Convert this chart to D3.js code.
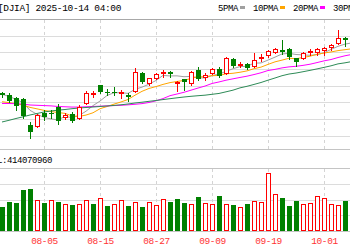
<!DOCTYPE html>
<html>
<head>
<meta charset="utf-8">
<script src="https://cdn.jsdelivr.net/npm/d3@7"></script>
<style>
  html, body { margin: 0; padding: 0; background: #fff; overflow: hidden; }
  svg { display: block; }
  text { font-family: "Liberation Mono", "DejaVu Sans Mono", monospace; }
</style>
</head>
<body>
<svg id="chart" width="350" height="250"></svg>
<script>
// trading days shown (the last one is cut at the right edge)
var dates = ['07-28','07-29','07-30','07-31','08-01','08-04','08-05','08-06','08-07','08-08',
  '08-11','08-12','08-13','08-14','08-15','08-18','08-19','08-20','08-21','08-22',
  '08-25','08-26','08-27','08-28','08-29','09-02','09-03','09-04','09-05','09-08',
  '09-09','09-10','09-11','09-12','09-15','09-16','09-17','09-18','09-19','09-22',
  '09-23','09-24','09-25','09-26','09-29','09-30','10-01','10-02','10-03','10-06','10-07'];
var tickDates = ['08-05','08-15','08-27','09-09','09-19','10-01'];

var opens = [44930,44830,44740,44700,43830,43800,44240,44230,44440,44100,
  44200,44080,44580,44870,45180,44960,44960,44900,44850,44980,
  45590,45250,45410,45580,45620,45250,45370,45240,45690,45460,
  45580,45720,45580,46050,45850,45900,45830,46100,46180,46300,
  46380,46400,46080,46100,46290,46290,46380,46480,46590,46780,46710];
var highs = [44960,44920,44780,44740,43950,44220,44340,44330,44560,44250,
  44280,44500,44970,44990,45200,45060,45100,45020,44920,45750,
  45620,45430,45600,45690,45660,45320,45400,45640,45800,45600,
  45760,45780,46140,46100,45960,45940,46250,46220,46350,46430,
  46700,46420,46100,46280,46400,46420,46480,46580,47049,46800,46750];
var lows = [44780,44600,44340,44080,43400,43760,44000,44080,43860,44050,
  43930,44040,44560,44780,44900,44850,44860,44750,44640,44940,
  45260,45200,45380,45450,45440,44990,45020,45200,45350,45350,
  45550,45460,45560,45800,45780,45720,45790,45990,46130,46250,
  46230,46050,45810,46050,46200,46200,46200,46380,46560,46500,46400];
var closes = [44838,44633,44461,44131,43589,44174,44112,44193,43969,44176,
  43975,44459,44922,44911,44946,44912,44922,44938,44786,45632,
  45282,45418,45565,45637,45545,45296,45271,45621,45401,45515,
  45711,45491,46108,45834,45883,45758,46018,46142,46315,46382,
  46293,46121,45947,46247,46316,46398,46441,46520,46758,46695,46603];
var prevClose = 44902;

var volumes = [463,558,527,781,800,584,539,584,552,520,
  489,508,584,520,622,470,520,584,470,552,
  451,546,489,603,552,609,539,520,641,533,
  508,660,508,489,451,508,571,552,1098,710,
  622,470,577,508,533,660,622,508,489,577,476].map(function(v){ return v * 1e6; });
var lastVolume = '414070960';

var ma5 = [44870,44800,44700,44590,44330,44198,44093,44040,44007,44125,
  44085,44154,44300,44489,44643,44830,44923,44926,44901,45038,
  45112,45211,45337,45507,45489,45492,45463,45474,45427,45421,
  45504,45548,45645,45732,45805,45815,45920,45927,46023,46123,
  46230,46251,46212,46198,46185,46206,46270,46384,46487,46562,46603];
var ma10 = [44620,44590,44555,44505,44430,44380,44330,44290,44255,44228,
  44141,44124,44170,44248,44384,44458,44539,44613,44695,44840,
  44971,45067,45131,45204,45264,45302,45337,45405,45467,45455,
  45498,45505,45560,45579,45613,45659,45734,45786,45878,45964,
  46022,46085,46069,46111,46154,46218,46260,46298,46342,46374,46405];
var ma20 = [44560,44560,44555,44540,44510,44500,44490,44480,44460,44450,
  44440,44440,44450,44460,44470,44480,44490,44500,44515,44534,
  44556,44595,44651,44726,44824,44880,44938,45009,45081,45148,
  45235,45286,45345,45392,45438,45481,45536,45596,45672,45710,
  45760,45795,45814,45845,45884,45939,45997,46042,46110,46169,46214];
var ma30 = [43937,43994,44055,44112,44173,44223,44274,44308,44335,44358,
  44385,44409,44426,44442,44459,44476,44496,44517,44543,44577,
  44604,44634,44661,44692,44722,44752,44779,44803,44823,44841,
  44870,44899,44954,45010,45087,45140,45203,45268,45346,45420,
  45497,45553,45587,45631,45677,45726,45777,45830,45896,45931,45975];

var maNames = ['5PMA','10PMA','20PMA','30PMA'];
var maColors = ['#a0a0a0','#ffa500','#ff00ff','#2e8b57'];
var priceGrid = [46845,46286,45723,45160,44601,44038,43475];
var volGrid = [0.3e9, 0.6e9, 0.9e9];

var svg = d3.select('#chart');
var red = '#ff0000', green = '#008000';

var x = d3.scaleBand().domain(dates).range([-1.5, 355.5]);
var y = d3.scaleLinear().domain([43027, 47408]).range([149, 19]);
var yv = d3.scaleLinear().domain([0, 1.2e9]).range([231, 168]);
function cx(d){ return Math.round(x(d) + x.bandwidth() / 2); }
function py(v){ return Math.round(y(v)); }

// grid
var grid = svg.append('g').attr('shape-rendering', 'crispEdges');
grid.selectAll('line.h').data(priceGrid).enter().append('line')
  .attr('x1', 0).attr('x2', 350)
  .attr('y1', function(d){ return py(d) + 0.5; }).attr('y2', function(d){ return py(d) + 0.5; })
  .attr('stroke', '#dcdcdc');
grid.selectAll('line.v').data(volGrid).enter().append('line')
  .attr('x1', 0).attr('x2', 350)
  .attr('y1', function(d){ return Math.round(yv(d)) + 0.5; }).attr('y2', function(d){ return Math.round(yv(d)) + 0.5; })
  .attr('stroke', '#dcdcdc');
[[y.range()[1], '#a8a8a8'], [y.range()[0], '#c4c4c4'], [yv.range()[1], '#c4c4c4'], [yv.range()[0], '#c4c4c4']].forEach(function(b){
  grid.append('line').attr('x1', 0).attr('x2', 350)
    .attr('y1', b[0] + 0.5).attr('y2', b[0] + 0.5).attr('stroke', b[1]);
});
[[y.range()[1] + 1, y.range()[0]], [yv.range()[1] + 1, yv.range()[0]]].forEach(function(r){
  grid.selectAll(null).data(tickDates).enter().append('line')
    .attr('x1', function(d){ return cx(d) + 0.5; }).attr('x2', function(d){ return cx(d) + 0.5; })
    .attr('y1', r[0]).attr('y2', r[1])
    .attr('stroke', '#d4d4d4').attr('stroke-dasharray', '3,3');
});

// moving averages
var line = d3.line().x(function(d, i){ return cx(dates[i]); }).y(function(d){ return y(d); });
[ma5, ma10, ma20, ma30].forEach(function(s, k){
  svg.append('path').attr('d', line(s)).attr('fill', 'none')
    .attr('stroke', maColors[k]).attr('stroke-width', 1);
});

// candles
var candles = svg.append('g').attr('shape-rendering', 'crispEdges');
dates.forEach(function(d, i){
  var c = cx(d), up = closes[i] >= opens[i], col = up ? red : green;
  candles.append('line')
    .attr('x1', c + 0.5).attr('x2', c + 0.5)
    .attr('y1', py(highs[i])).attr('y2', py(lows[i]) + 1)
    .attr('stroke', col);
  var top = py(Math.max(opens[i], closes[i])), bot = py(Math.min(opens[i], closes[i]));
  if (up) {
    candles.append('rect').attr('x', c - 2 + 0.5).attr('y', top + 0.5)
      .attr('width', 4).attr('height', Math.max(bot - top, 0))
      .attr('fill', '#fff').attr('stroke', red);
  } else {
    candles.append('rect').attr('x', c - 2).attr('y', top)
      .attr('width', 5).attr('height', Math.max(bot - top, 1))
      .attr('fill', green);
  }
});

// volume
var bars = svg.append('g').attr('shape-rendering', 'crispEdges');
volumes.forEach(function(v, i){
  var c = cx(dates[i]);
  var up = closes[i] >= (i === 0 ? prevClose : closes[i - 1]);
  var top = Math.round(yv(v)), base = Math.round(yv(0));
  if (up) {
    bars.append('rect').attr('x', c - 2 + 0.5).attr('y', top + 0.5)
      .attr('width', 4).attr('height', base - top - 1)
      .attr('fill', '#fff').attr('stroke', red);
  } else {
    bars.append('rect').attr('x', c - 2).attr('y', top)
      .attr('width', 5).attr('height', base - top)
      .attr('fill', green);
  }
});

// texts
svg.append('text').attr('x', -2).attr('y', 11)
  .attr('font-size', '9.5px').attr('letter-spacing', '-0.35px').attr('fill', '#000')
  .text('[DJIA] 2025-10-14 04:00');

var lx = 218;
maNames.forEach(function(n, k){
  svg.append('text').attr('x', lx).attr('y', 11)
    .attr('font-size', '9px').attr('letter-spacing', '-0.4px').attr('fill', '#000').text(n);
  lx += n.length * 5 + 2;
  svg.append('rect').attr('x', lx).attr('y', 6).attr('width', 5).attr('height', 3)
    .attr('fill', maColors[k]);
  lx += 5 + 8;
});

svg.append('text').attr('x', -13).attr('y', 163)
  .attr('font-size', '9px').attr('letter-spacing', '-0.4px').attr('fill', '#000')
  .text('VOL:' + lastVolume);

svg.selectAll('text.date').data(tickDates).enter().append('text')
  .attr('x', function(d){ return cx(d) + 0.5; }).attr('y', 243.5)
  .attr('text-anchor', 'middle')
  .attr('font-size', '9.5px').attr('letter-spacing', '-0.4px').attr('fill', '#ff3333')
  .text(function(d){ return d; });
</script>
</body>
</html>
